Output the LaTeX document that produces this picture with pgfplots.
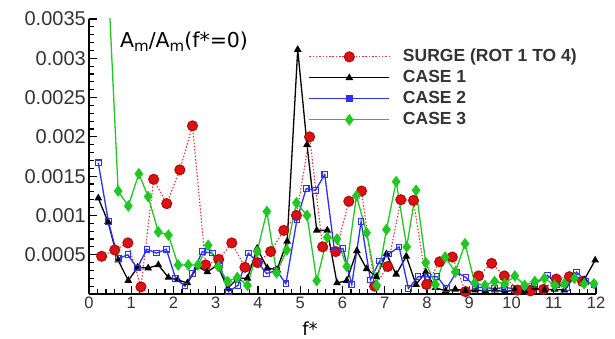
\documentclass[border=0pt]{standalone}
\usepackage{fontspec}
\setmainfont{Liberation Sans}
\newfontfamily\dejavu{DejaVu Sans}
\usepackage{pgfplots}
\pgfplotsset{compat=1.18}
\usetikzlibrary{calc}
\definecolor{surgered}{HTML}{DD1111}
\definecolor{caseblue}{HTML}{3030F0}
\definecolor{casegreen}{HTML}{22C822}
\definecolor{labgray}{HTML}{333333}
\newcommand{\subm}{\raisebox{-0.35ex}{\fontsize{15}{15}\selectfont m}}
\begin{document}
\begin{tikzpicture}
\begin{axis}[
  scale only axis, width=507pt, height=275pt,
  xmin=0, xmax=12, ymin=0, ymax=0.0035,
  scaled y ticks=false,
  axis x line*=bottom, axis y line*=left,
  axis line style={line width=1.6pt},
  xtick={0,1,2,3,4,5,6,7,8,9,10,11,12},
  xticklabels={0,1,2,3,4,5,6,7,8,9,10,11,12},
  minor x tick num=4,
  ytick={0,0.0005,0.001,0.0015,0.002,0.0025,0.003,0.0035},
  yticklabels={,0.0005,0.001,0.0015,0.002,0.0025,0.003,0.0035},
  minor y tick num=4,
  tick align=inside,
  major tick length=8pt, minor tick length=5pt,
  every tick/.style={black, line width=1.2pt},
  xticklabel style={font=\fontsize{16.5}{18}\selectfont, text=labgray, inner sep=1pt, yshift=-2pt},
  yticklabel style={font=\fontsize{20}{22}\selectfont, text=labgray, inner sep=1pt, xshift=-2pt},
  legend style={draw=none, fill=none, at={(rel axis cs:0.427,0.905)}, anchor=north west,
    font=\bfseries\fontsize{17.5}{20}\selectfont, text=labgray, row sep=2pt,
    nodes={inner sep=1pt, text height=13pt, text depth=4pt},
    /tikz/every odd column/.append style={column sep=12pt}},
  legend cell align=left,
  legend image code/.code={\draw[mark repeat=2,mark phase=2,#1] plot coordinates {(0pt,0pt) (40pt,0pt) (80pt,0pt)};},
]
\addplot[color=surgered!85, line width=1.1pt, dash pattern=on 1.5pt off 1.8pt,
  mark=*, mark size=5pt, mark options={solid, fill=surgered, draw=surgered!80!black}] coordinates {
(0.30,0.00048) (0.61,0.00056) (0.92,0.00065) (1.23,0.00009) (1.53,0.00146)
(1.84,0.00115) (2.15,0.00158) (2.45,0.00214) (2.76,0.00037) (3.07,0.00044)
(3.38,0.00065) (3.69,0.00034) (3.99,0.00040) (4.30,0.00054) (4.61,0.00081)
(4.91,0.00100) (5.22,0.00200) (5.53,0.00060) (5.84,0.00054) (6.15,0.00118)
(6.45,0.00131) (6.76,0.00010) (7.07,0.00035) (7.38,0.00120) (7.68,0.00119)
(7.99,0.00012) (8.30,0.00041) (8.60,0.00047) (8.91,0.00003) (9.22,0.00023)
(9.53,0.00039) (9.83,0.00023) (10.14,0.00005) (10.45,0.00004) (10.76,0.00006)
(11.06,0.00019) (11.37,0.00022) (11.68,0.00016)
};
\addlegendentry{SURGE (ROT 1 TO 4)}
\addplot[color=black, line width=1.3pt, mark=triangle*, mark size=3.2pt, mark options={solid}] coordinates {
(0.22,0.00122) (0.45,0.00092) (0.69,0.00043) (0.93,0.00017) (1.15,0.00034)
(1.40,0.00033) (1.64,0.00037) (1.88,0.00021) (2.10,0.00018) (2.33,0.00014)
(2.57,0.00035) (2.80,0.00028) (3.04,0.00037) (3.28,0.00007) (3.52,0.00020)
(3.75,0.00020) (3.98,0.00058) (4.22,0.00033) (4.45,0.00031) (4.69,0.00067)
(4.94,0.00311) (5.16,0.00190) (5.39,0.00081) (5.64,0.00081) (5.87,0.00014)
(6.10,0.00017) (6.34,0.00055) (6.57,0.00032) (6.80,0.00022) (7.04,0.00051)
(7.27,0.00025) (7.51,0.00048) (7.74,0.00012) (7.97,0.00028) (8.20,0.00008)
(8.44,0.00004) (8.67,0.00006) (8.91,0.00004) (9.14,0.00005) (9.38,0.00004)
(9.61,0.00005) (9.84,0.00003) (10.08,0.00005) (10.31,0.00004) (10.55,0.00008)
(10.78,0.00005) (11.02,0.00006) (11.25,0.00005) (11.48,0.00023) (11.72,0.00018)
(11.98,0.00043)
};
\addlegendentry{CASE 1}
\addplot[color=caseblue, line width=1.3pt, mark=square, mark size=2.8pt, mark options={solid, line width=1.1pt},
  legend image post style={mark=square*}] coordinates {
(0.22,0.00167) (0.46,0.00092) (0.69,0.00045) (0.92,0.00050) (1.14,0.00033)
(1.37,0.00057) (1.60,0.00052) (1.83,0.00057) (2.05,0.00020) (2.27,0.00010)
(2.45,0.00026) (2.68,0.00054) (2.92,0.00052) (3.10,0.00037) (3.30,0.00003)
(3.53,0.00011) (3.77,0.00052) (4.00,0.00040) (4.20,0.00026) (4.44,0.00030)
(4.66,0.00013) (4.92,0.00094) (5.14,0.00134) (5.36,0.00132) (5.58,0.00152)
(5.81,0.00055) (6.01,0.00058) (6.22,0.00012) (6.44,0.00092) (6.66,0.00018)
(6.88,0.00042) (7.10,0.00051) (7.34,0.00060) (7.56,0.00007) (7.79,0.00022)
(8.02,0.00022) (8.24,0.00022) (8.46,0.00007) (8.70,0.00028) (8.92,0.00021)
(9.14,0.00009) (9.37,0.00008) (9.60,0.00007) (9.84,0.00008) (10.07,0.00007)
(10.30,0.00009) (10.54,0.00012) (10.85,0.00024) (11.08,0.00012) (11.31,0.00008)
(11.54,0.00028) (11.76,0.00016) (11.95,0.00012)
};
\addlegendentry{CASE 2}
\addplot[color=casegreen, line width=1.3pt, mark=diamond*, mark size=4.8pt, mark options={solid}] coordinates {
(0.47,0.0038) (0.69,0.00131) (0.93,0.00112) (1.18,0.00153) (1.40,0.00124)
(1.64,0.00079) (1.88,0.00075) (2.11,0.00037) (2.35,0.00037) (2.58,0.00037)
(2.82,0.00062) (3.06,0.00035) (3.28,0.00016) (3.51,0.00021) (3.75,0.00011)
(3.98,0.00054) (4.21,0.00105) (4.44,0.00027) (4.68,0.00056) (4.91,0.00116)
(5.16,0.00100) (5.39,0.00017) (5.64,0.00072) (5.87,0.00070) (6.10,0.00035)
(6.33,0.00125) (6.57,0.00078) (6.81,0.00011) (7.04,0.00082) (7.27,0.00143)
(7.52,0.00060) (7.74,0.00132) (7.97,0.00040) (8.20,0.00012) (8.43,0.00047)
(8.67,0.00028) (8.90,0.00064) (9.13,0.00014) (9.37,0.00011) (9.60,0.00016)
(9.84,0.00013) (10.08,0.00023) (10.31,0.00011) (10.55,0.00016) (10.78,0.00020)
(11.02,0.00011) (11.25,0.00013) (11.49,0.00020) (11.72,0.00013) (11.95,0.00013)
};
\addlegendentry{CASE 3}
\node[anchor=base west, font=\dejavu\fontsize{20.5}{22}\selectfont, inner sep=0pt] at (rel axis cs:0.061,0.895) {A\subm/A\subm(f*=0)};
\coordinate (bl) at (rel axis cs:0,0);
\coordinate (tr) at (rel axis cs:1,1);
\coordinate (fl) at (rel axis cs:0.436,0);
\end{axis}
\node[anchor=base, font=\dejavu\fontsize{18}{20}\selectfont, inner sep=0pt] at ($(fl)+(0,-42pt)$) {f*};
\pgfresetboundingbox
\path[use as bounding box] ($(bl)+(-89pt,-45pt)$) rectangle ($(tr)+(19pt,19pt)$);
\end{tikzpicture}
\end{document}
